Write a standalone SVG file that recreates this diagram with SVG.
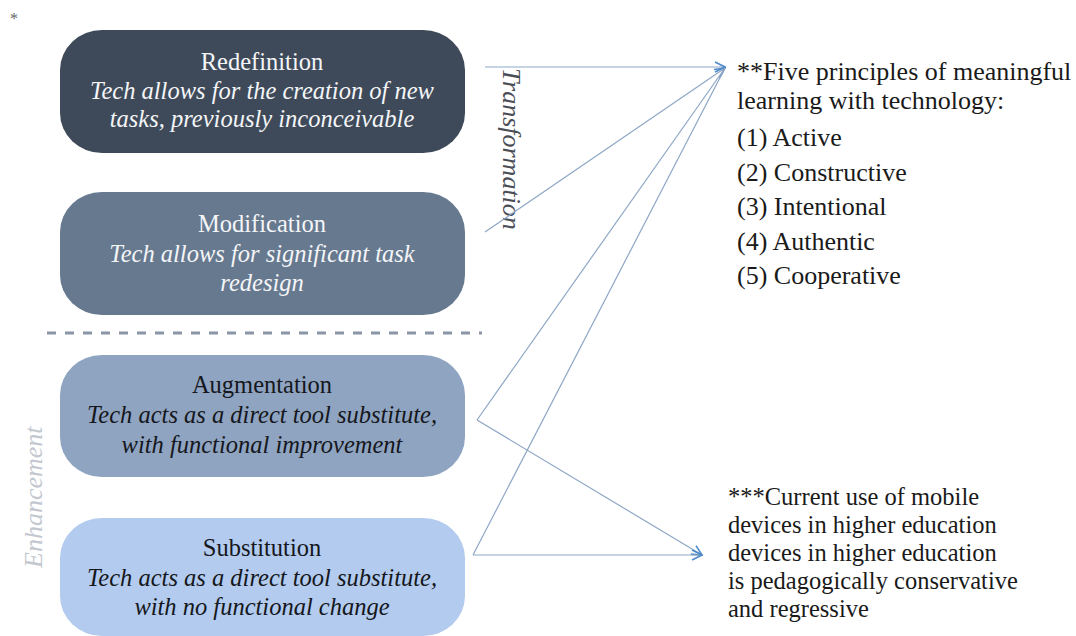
<svg xmlns="http://www.w3.org/2000/svg" width="1076" height="636" viewBox="0 0 1076 636" font-family="'Liberation Serif', Tinos, 'Times New Roman', 'DejaVu Serif', serif">
  <defs>
    <marker id="arrow" viewBox="0 0 12 12" refX="11" refY="6" markerWidth="12" markerHeight="12" markerUnits="userSpaceOnUse" orient="auto">
      <path d="M1,1 L11,6 L1,11" fill="none" stroke="#4f8bc9" stroke-width="1.6"/>
    </marker>
    <style>
      text { font-family: 'Liberation Serif', Tinos, 'Times New Roman', 'DejaVu Serif', serif; }
      .node-title { font-size: 24.5px; text-anchor: middle; }
      .node-desc { font-size: 24.5px; font-style: italic; text-anchor: middle; }
      .light { fill: #f4f5f7; }
      .dark { fill: #15171c; }
      .note { font-size: 26px; fill: #1a1a1a; }
      .note-small { font-size: 24.5px; fill: #1a1a1a; }
      .band { font-size: 26px; font-style: italic; }
      .link { fill: none; stroke: #8ea7c6; stroke-width: 1.2; }
    </style>
  </defs>

  <rect width="1076" height="636" fill="#ffffff"/>

  <!-- footnote mark -->
  <text x="10" y="24" font-size="16" fill="#666">*</text>

  <!-- SAMR levels -->
  <g id="redefinition">
    <rect x="60" y="30" width="405" height="123" rx="42" ry="40" fill="#3e4a59"/>
    <text class="node-title light" x="262" y="70">Redefinition</text>
    <text class="node-desc light" x="262" y="99">Tech allows for the creation of new</text>
    <text class="node-desc light" x="262" y="127">tasks, previously inconceivable</text>
  </g>

  <g id="modification">
    <rect x="60" y="192" width="405" height="123" rx="42" ry="40" fill="#66798f"/>
    <text class="node-title light" x="262" y="232">Modification</text>
    <text class="node-desc light" x="262" y="262">Tech allows for significant task</text>
    <text class="node-desc light" x="262" y="291">redesign</text>
  </g>

  <!-- divider between transformation and enhancement -->
  <line x1="47" y1="333" x2="482" y2="333" stroke="#8a95a6" stroke-width="3" stroke-dasharray="9 9"/>

  <g id="augmentation">
    <rect x="60" y="355" width="405" height="122" rx="42" ry="40" fill="#8fa4c1"/>
    <text class="node-title dark" x="262" y="393">Augmentation</text>
    <text class="node-desc dark" x="262" y="423">Tech acts as a direct tool substitute,</text>
    <text class="node-desc dark" x="262" y="453">with functional improvement</text>
  </g>

  <g id="substitution">
    <rect x="60" y="518" width="405" height="118" rx="42" ry="40" fill="#b2cbee"/>
    <text class="node-title dark" x="262" y="556">Substitution</text>
    <text class="node-desc dark" x="262" y="586">Tech acts as a direct tool substitute,</text>
    <text class="node-desc dark" x="262" y="615">with no functional change</text>
  </g>

  <!-- band labels -->
  <g id="transformation-label">
    <text class="band" fill="#4a4d55" transform="translate(503,68) rotate(90)">Transformation</text>
  </g>
  <g id="enhancement-label">
    <text class="band" fill="#c3c7cf" transform="translate(42,568) rotate(-90)">Enhancement</text>
  </g>

  <!-- connectors -->
  <g id="connectors">
    <line class="link" x1="485" y1="67" x2="725" y2="67" marker-end="url(#arrow)"/>
    <line class="link" x1="485" y1="232" x2="725" y2="68" marker-end="url(#arrow)"/>
    <line class="link" x1="477" y1="420" x2="725" y2="68"/>
    <line class="link" x1="473" y1="555" x2="725" y2="68"/>
    <line class="link" x1="477" y1="420" x2="702" y2="555" marker-end="url(#arrow)"/>
    <line class="link" x1="473" y1="555" x2="702" y2="555" marker-end="url(#arrow)"/>
  </g>

  <!-- principles note -->
  <g id="principles">
    <text class="note" x="737" y="80">**Five principles of meaningful</text>
    <text class="note" x="737" y="109">learning with technology:</text>
    <text class="note" x="737" y="146">(1) Active</text>
    <text class="note" x="737" y="180.5">(2) Constructive</text>
    <text class="note" x="737" y="215">(3) Intentional</text>
    <text class="note" x="737" y="249.5">(4) Authentic</text>
    <text class="note" x="737" y="284">(5) Cooperative</text>
  </g>

  <!-- mobile use note -->
  <g id="mobile-use">
    <text class="note-small" x="728" y="505">***Current use of mobile</text>
    <text class="note-small" x="728" y="533">devices in higher education</text>
    <text class="note-small" x="728" y="561">devices in higher education</text>
    <text class="note-small" x="728" y="589">is pedagogically conservative</text>
    <text class="note-small" x="728" y="617">and regressive</text>
  </g>
</svg>
